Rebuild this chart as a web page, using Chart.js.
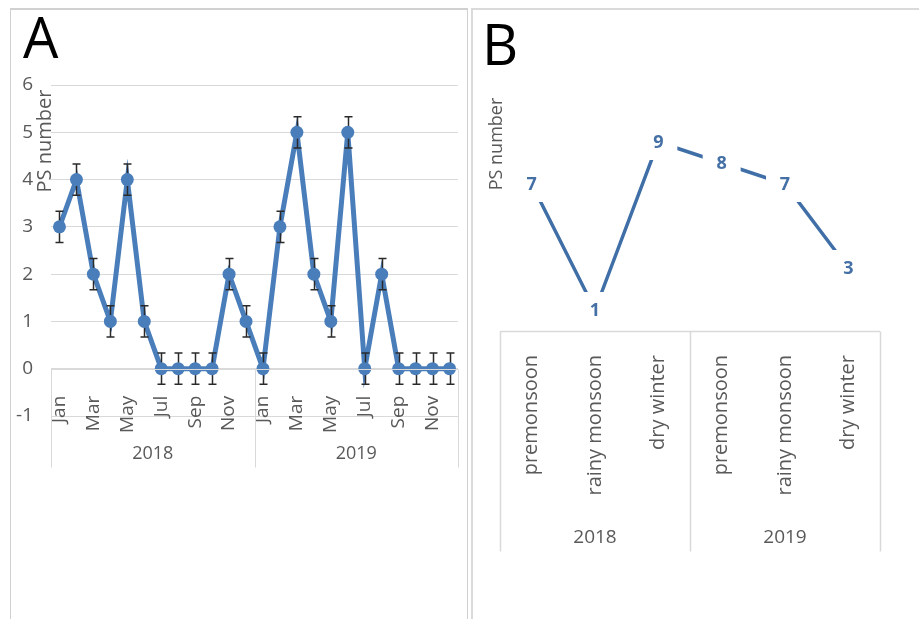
<!DOCTYPE html>
<html><head><meta charset="utf-8">
<script src="https://cdn.jsdelivr.net/npm/chart.js@4.4.1/dist/chart.umd.min.js"></script>
<style>
html,body{margin:0;padding:0;background:#fff;width:919px;height:619px;overflow:hidden;position:relative;font-family:'Open Sans',sans-serif}
.panel{position:absolute;box-sizing:border-box}
#pa{left:10px;top:8px;width:458px;height:660px;border:1px solid #d0d0d0;border-top-width:2px}
#pb{left:471px;top:8px;width:470px;height:660px;border:2px solid #dadada}
canvas{position:absolute}
#ca{left:11px;top:8px;width:456px;height:611px}
#cb{left:471px;top:8px;width:448px;height:611px}
</style></head><body>
<div class="panel" id="pa"></div><div class="panel" id="pb"></div>
<canvas id="ca" width="456" height="611"></canvas>
<canvas id="cb" width="448" height="611"></canvas>
<script>
// ---- data ----
const months = ['Jan','Feb','Mar','Apr','May','Jun','Jul','Aug','Sep','Oct','Nov','Dec'];
const years = ['2018','2019'];
const ps2018 = [3,4,2,1,4,1,0,0,0,0,2,1];
const ps2019 = [0,3,5,2,1,5,0,2,0,0,0,0];
const err2018 = [0.33,0.33,0.33,0.33,0.33,0.33,0.33,0.33,0.33,0.33,0.33,0.33];
const err2019 = [0.33,0.33,0.33,0.33,0.33,0.33,0.33,0.33,0.33,0.33,0.33,0.33];
const yTicksA = [-1,0,1,2,3,4,5,6];
const seasons = ['premonsoon','rainy monsoon','dry winter'];
const season2018 = [7,1,9];
const season2019 = [8,7,3];

const blueA = '#4a7ebb';
const blueB = '#3f6fa6';
const labelB = '#4470a5';
const grey = '#595959';
const gridC = '#d9d9d9';
const FONT = "'Open Sans', sans-serif";

const labelsA = years.flatMap(() => months);
const valuesA = ps2018.concat(ps2019);
const errA = err2018.concat(err2019);
const labelsB = years.flatMap(() => seasons);
const valuesB = season2018.concat(season2019);

// ---- panel A plugins ----
const errorBars = {
  id: 'errorBars',
  afterDatasetDraw(chart, args) {
    if (args.index !== 0) return;
    const {ctx, scales: {x, y}} = chart;
    ctx.save();
    ctx.strokeStyle = '#2a2a2a';
    ctx.lineWidth = 1.5;
    valuesA.forEach((v, i) => {
      const px = Math.round(x.getPixelForValue(i)) + 0.5;
      const t = y.getPixelForValue(v + errA[i]);
      const b = y.getPixelForValue(v - errA[i]);
      ctx.beginPath();
      ctx.moveTo(px, t); ctx.lineTo(px, b);
      ctx.moveTo(px - 4, t); ctx.lineTo(px + 4, t);
      ctx.moveTo(px - 4, b); ctx.lineTo(px + 4, b);
      ctx.stroke();
    });
    ctx.restore();
  }
};
const boxA = {
  id: 'boxA',
  afterDraw(chart) {
    const {ctx, chartArea: ca, scales: {x, y}} = chart;
    const y0 = Math.round(y.getPixelForValue(0)) + 0.5;
    const bottom = y0 + 98;
    const n = months.length;
    ctx.save();
    ctx.strokeStyle = gridC; ctx.lineWidth = 1;
    const divs = [ca.left];
    for (let g = 1; g < years.length; g++) divs.push((x.getPixelForValue(g * n - 1) + x.getPixelForValue(g * n)) / 2);
    divs.push(ca.right);
    ctx.beginPath();
    divs.forEach(d => { const dx = Math.round(d) + 0.5; ctx.moveTo(dx, y0); ctx.lineTo(dx, bottom); });
    ctx.moveTo(ca.left, y0); ctx.lineTo(ca.right, y0);
    ctx.stroke();
    ctx.fillStyle = grey; ctx.font = `18px ${FONT}`; ctx.textAlign = 'center'; ctx.textBaseline = 'middle';
    years.forEach((yr, g) => ctx.fillText(yr, (divs[g] + divs[g + 1]) / 2, y0 + 84));
    // panel letter and axis title
    ctx.fillStyle = '#000'; ctx.font = `56px ${FONT}`; ctx.textAlign = 'left'; ctx.textBaseline = 'alphabetic';
    ctx.fillText('A', 12, 50);
    ctx.save();
    ctx.translate(34, 133); ctx.rotate(-Math.PI / 2);
    ctx.fillStyle = grey; ctx.font = `20px ${FONT}`; ctx.textAlign = 'center'; ctx.textBaseline = 'middle';
    ctx.fillText('PS number', 0, 0);
    ctx.restore();
    ctx.restore();
  }
};

new Chart(document.getElementById('ca'), {
  type: 'line',
  data: {
    labels: labelsA,
    datasets: [
      {data: valuesA, borderColor: blueA, borderWidth: 5, pointRadius: 0, tension: 0, order: 2},
      {data: valuesA, showLine: false, pointRadius: 6.5, pointBackgroundColor: blueA, pointBorderWidth: 0, order: 1}
    ]
  },
  options: {
    responsive: false, animation: false,
    layout: {padding: {left: 0, right: 9, top: 77, bottom: 203}},
    plugins: {legend: {display: false}, tooltip: {enabled: false}},
    scales: {
      x: {
        type: 'category', offset: true, position: {y: 0},
        grid: {display: false}, border: {display: false},
        ticks: {autoSkip: false, minRotation: 90, maxRotation: 90, padding: 19, color: grey,
          font: {family: FONT, size: 19}, callback: (v, i) => (i % 2 === 0 ? labelsA[i] : '')},
        afterFit: s => { s.height = 0; s.paddingLeft = 0; s.paddingRight = 0; }
      },
      y: {
        min: yTicksA[0], max: yTicksA[yTicksA.length - 1],
        afterBuildTicks: s => { s.ticks = yTicksA.map(v => ({value: v})); },
        ticks: {padding: 18, color: grey, font: {family: FONT, size: 19}},
        grid: {color: gridC, drawTicks: false, lineWidth: 1},
        border: {display: false},
        afterFit: s => { s.width = 40; }
      }
    }
  },
  plugins: [errorBars, boxA]
});

// ---- panel B ----
const boxB = {
  id: 'boxB',
  afterDraw(chart) {
    const {ctx, chartArea: ca, scales: {x}} = chart;
    const top = Math.round(ca.bottom) + 0.5;
    const bottom = top + 220;
    const n = seasons.length;
    ctx.save();
    ctx.strokeStyle = gridC; ctx.lineWidth = 1.5;
    const divs = [ca.left];
    for (let g = 1; g < years.length; g++) divs.push((x.getPixelForValue(g * n - 1) + x.getPixelForValue(g * n)) / 2);
    divs.push(ca.right);
    ctx.beginPath();
    divs.forEach(d => { const dx = Math.round(d) + 0.5; ctx.moveTo(dx, top); ctx.lineTo(dx, bottom); });
    ctx.moveTo(ca.left, top); ctx.lineTo(ca.right, top);
    ctx.stroke();
    ctx.fillStyle = grey; ctx.font = `19px ${FONT}`; ctx.textAlign = 'center'; ctx.textBaseline = 'middle';
    years.forEach((yr, g) => ctx.fillText(yr, (divs[g] + divs[g + 1]) / 2, top + 206));
    ctx.fillStyle = '#000'; ctx.font = `56px ${FONT}`; ctx.textAlign = 'left'; ctx.textBaseline = 'alphabetic';
    ctx.fillText('B', 11, 57);
    ctx.save();
    ctx.translate(26, 136); ctx.rotate(-Math.PI / 2);
    ctx.fillStyle = grey; ctx.font = `18px ${FONT}`; ctx.textAlign = 'center'; ctx.textBaseline = 'middle';
    ctx.fillText('PS number', 0, 0);
    ctx.restore();
    ctx.restore();
  }
};
const dataLabelsB = {
  id: 'dataLabelsB',
  afterDatasetsDraw(chart) {
    const {ctx} = chart;
    const meta = chart.getDatasetMeta(0);
    ctx.save();
    meta.data.forEach((pt, i) => {
      ctx.fillStyle = '#fff';
      ctx.fillRect(pt.x - 19, pt.y - 18, 38, 36);
      ctx.fillStyle = labelB; ctx.font = `bold 18px ${FONT}`; ctx.textAlign = 'center'; ctx.textBaseline = 'middle';
      ctx.fillText(String(valuesB[i]), pt.x, pt.y + 1);
    });
    ctx.restore();
  }
};

new Chart(document.getElementById('cb'), {
  type: 'line',
  data: {
    labels: labelsB,
    datasets: [{data: valuesB, borderColor: blueB, borderWidth: 3.5, pointRadius: 0, tension: 0}]
  },
  options: {
    responsive: false, animation: false,
    layout: {padding: {left: 29, right: 39, top: 113, bottom: 68}},
    plugins: {legend: {display: false}, tooltip: {enabled: false}},
    scales: {
      x: {
        type: 'category', offset: true,
        grid: {display: false}, border: {display: false},
        ticks: {autoSkip: false, minRotation: 90, maxRotation: 90, padding: 16, color: grey,
          font: {family: FONT, size: 20}},
        afterFit: s => { s.height = 220; }
      },
      y: {display: false, min: 0, max: 10}
    }
  },
  plugins: [boxB, dataLabelsB]
});
</script>
</body></html>
